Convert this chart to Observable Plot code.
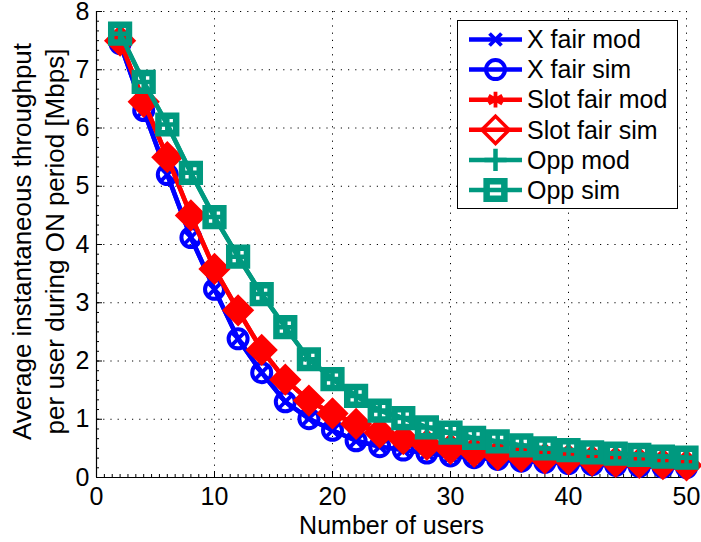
<!DOCTYPE html>
<html><head><meta charset="utf-8">
<script src="https://cdn.jsdelivr.net/npm/d3@7"></script>
<script src="https://cdn.jsdelivr.net/npm/@observablehq/plot@0.6"></script>
<style>
html,body{margin:0;padding:0;background:#fff;}
#wrap{position:relative;width:701px;height:542px;overflow:hidden;}
</style></head><body><div id="wrap"></div>
<script>
const users = [2,4,6,8,10,12,14,16,18,20,22,24,26,28,30,32,34,36,38,40,42,44,46,48,50];
const xFairMod    = [7.45,6.30,5.20,4.12,3.23,2.38,1.80,1.30,1.01,0.81,0.63,0.53,0.47,0.42,0.37,0.34,0.31,0.28,0.26,0.24,0.22,0.21,0.19,0.18,0.17];
const xFairSim    = [7.45,6.30,5.20,4.12,3.23,2.38,1.80,1.30,1.01,0.81,0.63,0.53,0.47,0.42,0.37,0.34,0.31,0.28,0.26,0.24,0.22,0.21,0.19,0.18,0.17];
const slotFairMod = [7.50,6.45,5.50,4.50,3.58,2.87,2.19,1.68,1.32,1.10,0.92,0.77,0.66,0.56,0.49,0.44,0.39,0.36,0.33,0.31,0.29,0.27,0.25,0.23,0.21];
const slotFairSim = [7.50,6.45,5.50,4.50,3.58,2.87,2.19,1.68,1.32,1.10,0.92,0.77,0.66,0.56,0.49,0.44,0.39,0.36,0.33,0.31,0.29,0.27,0.25,0.23,0.21];
const oppMod      = [7.62,6.79,6.06,5.23,4.47,3.79,3.15,2.58,2.03,1.69,1.40,1.15,1.02,0.86,0.77,0.68,0.62,0.55,0.50,0.47,0.43,0.41,0.39,0.36,0.34];
const oppSim      = [7.62,6.79,6.06,5.23,4.47,3.79,3.15,2.58,2.03,1.69,1.40,1.15,1.02,0.86,0.77,0.68,0.62,0.55,0.50,0.47,0.43,0.41,0.39,0.36,0.34];

const seriesNames  = ["X fair mod","X fair sim","Slot fair mod","Slot fair sim","Opp mod","Opp sim"];
const seriesValues = [xFairMod, xFairSim, slotFairMod, slotFairSim, oppMod, oppSim];

const xTicks = [0,10,20,30,40,50];
const yTicks = [0,1,2,3,4,5,6,7,8];
const xLabel = "Number of users";
const yLabel = ["Average instantaneous throughput","per user during ON period [Mbps]"];

// styles (kept apart from data)
const BLUE = "#0000ff", RED = "#ff0000", TEAL = "#00997f";
const FONT = "'Liberation Sans', Arial, Helvetica, sans-serif";
const FS = 25;
const styles = [
  {color: BLUE, symbol: "times",    d3sym: d3.symbolTimes,    r: 5.5,  sw: 3.8, fill: "none", legendFill: "none"},
  {color: BLUE, symbol: "circle",   d3sym: d3.symbolCircle,   r: 9.5,  sw: 4,   fill: "none", legendFill: "none"},
  {color: RED,  symbol: "asterisk", d3sym: d3.symbolAsterisk, r: 7.5,  sw: 3.8, fill: "none", legendFill: "none"},
  {color: RED,  symbol: "diamond2", d3sym: d3.symbolDiamond2, r: 12.3, sw: 3.5, fill: RED,    legendFill: "none"},
  {color: TEAL, symbol: "plus",     d3sym: d3.symbolPlus,     r: 7.2,  sw: 4.5, fill: "none", legendFill: "none"},
  {color: TEAL, symbol: "square",   d3sym: d3.symbolSquare,   r: 10,   sw: 6.5, fill: "none", legendFill: "none"}
];

const W = 701, H = 542;
const mL = 96, mR = 15, mT = 11, mB = 65;
const innerW = W - mL - mR, innerH = H - mT - mB;

const table = seriesNames.map((name, si) =>
  users.map((u, i) => ({series: name, users: u, value: seriesValues[si][i]})));

const seriesMarks = [];
table.forEach((rows, si) => {
  const s = styles[si];
  seriesMarks.push(Plot.line(rows, {x: "users", y: "value", stroke: s.color, strokeWidth: 4.5, strokeLinejoin: "miter", strokeLinecap: "butt"}));
  seriesMarks.push(Plot.dot(rows, {x: "users", y: "value", symbol: s.symbol, r: s.r, stroke: s.color, strokeWidth: s.sw, fill: s.fill}));
});

const minorX = d3.range(0, 50.001, 10/15);
const minorY = d3.range(0, 8.001, 1/6);

const chart = Plot.plot({
  width: W, height: H,
  marginLeft: mL, marginRight: mR, marginTop: mT, marginBottom: mB,
  style: {fontFamily: FONT, fontSize: FS + "px", background: "white", color: "black", overflow: "visible"},
  x: {domain: [0, 50]},
  y: {domain: [0, 8]},
  marks: [
    Plot.ruleX(xTicks.filter(d => d > 0), {x: d => d, stroke: "#000", strokeWidth: 1, strokeDasharray: "1.2,6"}),
    Plot.ruleY(yTicks.filter(d => d > 0), {y: d => d, stroke: "#000", strokeWidth: 1, strokeDasharray: "1.2,6"}),
    Plot.tickX(minorX, {x: d => d, insetTop: innerH - 3, stroke: "#000", strokeWidth: 1}),
    Plot.tickY(minorY, {y: d => d, insetRight: innerW - 3, stroke: "#000", strokeWidth: 1}),
    Plot.tickX(xTicks, {x: d => d, insetTop: innerH - 6, stroke: "#000", strokeWidth: 1}),
    Plot.tickY(yTicks, {y: d => d, insetRight: innerW - 6, stroke: "#000", strokeWidth: 1}),
    Plot.ruleX([0], {stroke: "#000", strokeWidth: 1.2}),
    Plot.ruleY([0], {stroke: "#000", strokeWidth: 1.2}),
    Plot.axisX(xTicks, {tickSize: 0, tickPadding: 10, label: null, fontSize: FS, tickFormat: d => String(d)}),
    Plot.axisY(yTicks, {tickSize: 0, tickPadding: 7, label: null, fontSize: FS, tickFormat: d => String(d)}),
    Plot.text([xLabel], {text: d => d, frameAnchor: "bottom", textAnchor: "middle", lineAnchor: "middle", dy: 48, fontSize: FS}),
    Plot.text([yLabel.join("\n")], {text: d => d, frameAnchor: "left", textAnchor: "middle", lineAnchor: "middle", rotate: -90, dx: -60, dy: -3, lineHeight: 1.28, fontSize: 26}),
    ...seriesMarks
  ]
});
document.getElementById("wrap").appendChild(chart);

// Legend overlay
const lgW = 221, lgH = 190, lgLeft = 457, lgTop = 20;
const lg = d3.create("svg")
  .attr("width", lgW).attr("height", lgH)
  .style("position", "absolute").style("left", lgLeft + "px").style("top", lgTop + "px")
  .style("font-family", FONT).style("font-size", FS + "px");
lg.append("rect").attr("x", 0.5).attr("y", 0.5).attr("width", lgW - 1).attr("height", lgH - 2)
  .attr("fill", "white").attr("stroke", "#000").attr("stroke-width", 1);
seriesNames.forEach((name, i) => {
  const s = styles[i];
  const cy = 19.5 + i * 30.1;
  lg.append("line").attr("x1", 12).attr("x2", 65).attr("y1", cy).attr("y2", cy)
    .attr("stroke", s.color).attr("stroke-width", 4.5);
  lg.append("path").attr("transform", `translate(38.5,${cy})`)
    .attr("d", d3.symbol(s.d3sym, Math.PI * s.r * s.r)())
    .attr("fill", s.legendFill).attr("stroke", s.color).attr("stroke-width", s.sw);
  lg.append("text").attr("x", 70).attr("y", cy).attr("dy", "0.35em").attr("fill", "#000").text(name);
});
document.getElementById("wrap").appendChild(lg.node());
</script>
</body></html>
